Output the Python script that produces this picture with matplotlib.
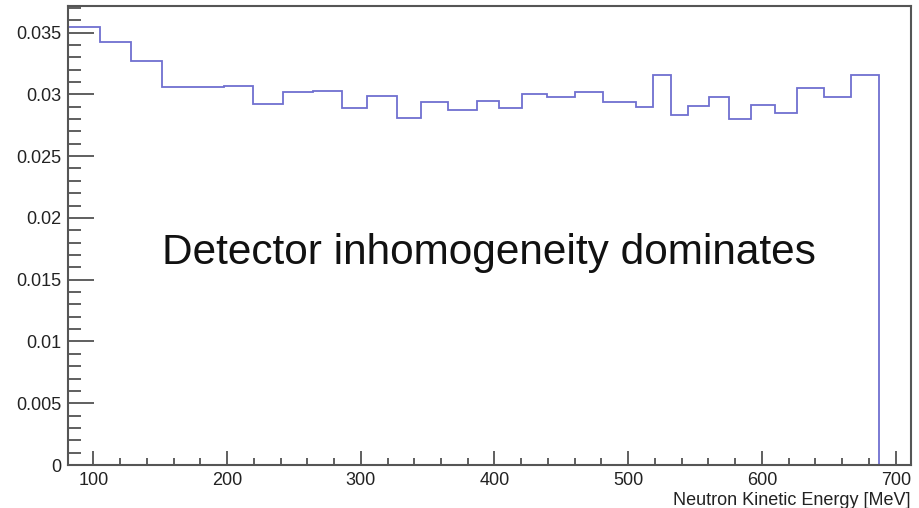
import matplotlib
matplotlib.use("Agg")
import matplotlib.pyplot as plt
from matplotlib.ticker import MultipleLocator, FuncFormatter

# Bin edges (MeV) and contents of the resolution histogram
bin_edges = [81.1, 105.0, 128.0, 151.6, 198.0, 219.6, 241.6, 264.1, 285.7, 304.7,
             326.9, 345.0, 365.5, 386.7, 403.6, 420.2, 439.3, 460.2, 481.4, 505.6,
             518.7, 532.0, 544.9, 560.6, 575.6, 591.8, 609.7, 626.4, 646.4, 666.3,
             687.5]
bin_values = [0.03541, 0.03420, 0.03266, 0.03061, 0.03069, 0.02918, 0.03015, 0.03028,
              0.02886, 0.02988, 0.02810, 0.02939, 0.02872, 0.02947, 0.02886, 0.03002,
              0.02975, 0.03015, 0.02934, 0.02899, 0.03155, 0.02832, 0.02905, 0.02975,
              0.02799, 0.02913, 0.02850, 0.03053, 0.02975, 0.03155]

x_ticks = [100, 200, 300, 400, 500, 600, 700]
y_ticks = [0, 0.005, 0.01, 0.015, 0.02, 0.025, 0.03, 0.035]
x_label = "Neutron Kinetic Energy [MeV]"
note = "Detector inhomogeneity dominates"

plt.rcParams['font.family'] = ['Liberation Sans', 'DejaVu Sans']

fig = plt.figure(figsize=(9.2, 5.08), dpi=100)
ax = fig.add_axes([0.0739, 0.0846, 0.916, 0.9034])

ax.stairs(bin_values, bin_edges, baseline=0, color='#6f6fd0', linewidth=1.3)

ax.set_xlim(81.1, 711.2)
ax.set_ylim(0, 0.03714)

ax.set_xticks(x_ticks)
ax.set_yticks(y_ticks)
ax.xaxis.set_minor_locator(MultipleLocator(20))
ax.yaxis.set_minor_locator(MultipleLocator(0.001))
ax.yaxis.set_major_formatter(FuncFormatter(lambda v, p: "%g" % v))

ax.tick_params(axis='both', which='both', direction='in', colors='#444444',
               labelcolor='#222222', labelsize=13)
ax.tick_params(axis='y', which='major', length=19, width=1.2, pad=5)
ax.tick_params(axis='y', which='minor', length=9.5, width=1.2)
ax.tick_params(axis='x', which='major', length=10, width=1.2, pad=5)
ax.tick_params(axis='x', which='minor', length=5, width=1.2)
ax.tick_params(top=False, right=False, which='both')

for s in ax.spines.values():
    s.set_color('#555555')
    s.set_linewidth(1.5)

ax.set_xlabel(x_label, fontsize=13, color='#222222', loc='right', labelpad=2)

ax.text(0.499, 0.462, note, transform=ax.transAxes, fontsize=30.5,
        ha='center', va='center', color='#111111')

fig.savefig("out.png", dpi=100, facecolor='white')
